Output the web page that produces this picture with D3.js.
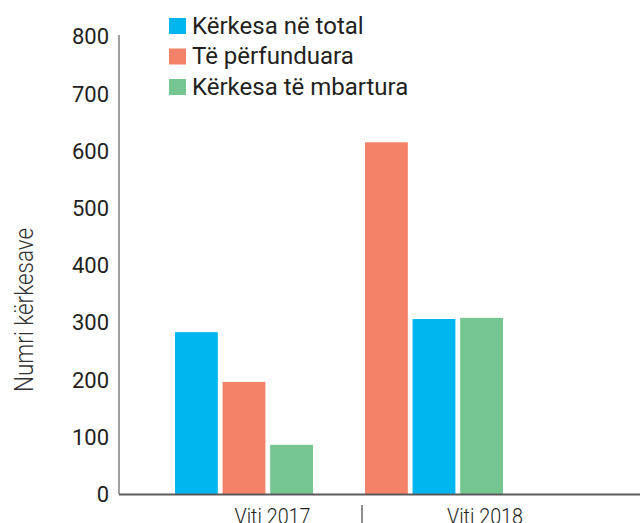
<!DOCTYPE html>
<html>
<head>
<meta charset="utf-8">
<script src="https://cdn.jsdelivr.net/npm/d3@7"></script>
<style>
    html, body { margin: 0; padding: 0; background: #fff; }
    svg { display: block; font-family: Roboto, "Open Sans", sans-serif; }
</style>
</head>
<body>
<div id="chart"></div>
<script>
// data
var years = ['Viti 2017', 'Viti 2018'];
var seriesNames = ['Kërkesa në total', 'Të përfunduara', 'Kërkesa të mbartura'];
var seriesColors = ['#00b6ef', '#f48268', '#76c692'];
var totalValues = [283, 306];      // Kërkesa në total
var doneValues = [196, 615];       // Të përfunduara
var carriedValues = [86, 308];     // Kërkesa të mbartura
// bar order inside each year (series index)
var barOrder = [[0, 1, 2], [1, 0, 2]];
var yTicks = [0, 100, 200, 300, 400, 500, 600, 700, 800];

var values = [totalValues, doneValues, carriedValues];

var W = 640, H = 523;
var svg = d3.select('#chart').append('svg')
    .attr('width', W)
    .attr('height', H);

var y = d3.scaleLinear()
    .domain([0, 800])
    .range([494, 36.5]);

var x = d3.scaleBand()
    .domain(years)
    .range([149, 529]);

var inner = d3.scaleBand()
    .domain([0, 1, 2])
    .range([26, 164])
    .paddingInner(0.1);

// y axis line
svg.append('line')
    .attr('x1', 119).attr('x2', 119)
    .attr('y1', 35).attr('y2', y(0))
    .attr('stroke', '#808080')
    .attr('stroke-width', 1.5);

// tick labels
svg.append('g')
    .selectAll('text')
    .data(yTicks)
    .join('text')
    .attr('x', 109)
    .attr('y', function(d) { return y(d); })
    .attr('dy', '0.36em')
    .attr('text-anchor', 'end')
    .attr('fill', '#231f20')
    .style('font-size', '22px')
    .text(function(d) { return d; });

// axis title
svg.append('text')
    .attr('transform', 'translate(33,' + 310 + ') rotate(-90)')
    .attr('text-anchor', 'middle')
    .attr('fill', '#333')
    .attr('textLength', 164)
    .attr('lengthAdjust', 'spacingAndGlyphs')
    .style('font-size', '25px')
    .style('font-weight', 300)
    .text('Numri kërkesave');

// bars
var groups = svg.append('g')
    .selectAll('g')
    .data(years)
    .join('g')
    .attr('transform', function(d) { return 'translate(' + x(d) + ',0)'; });

groups.selectAll('rect')
    .data(function(d, i) {
        return barOrder[i].map(function(s, k) {
            return {slot: k, series: s, value: values[s][i]};
        });
    })
    .join('rect')
    .attr('x', function(d) { return inner(d.slot); })
    .attr('width', inner.bandwidth())
    .attr('y', function(d) { return y(d.value); })
    .attr('height', function(d) { return y(0) - y(d.value); })
    .attr('fill', function(d) { return seriesColors[d.series]; });

// baseline
svg.append('line')
    .attr('x1', 119).attr('x2', W)
    .attr('y1', y(0) + 0.5).attr('y2', y(0) + 0.5)
    .attr('stroke', '#5a5a5a')
    .attr('stroke-width', 2);

// category divider
svg.append('line')
    .attr('x1', x(years[1]) + 23).attr('x2', x(years[1]) + 23)
    .attr('y1', 505).attr('y2', 523)
    .attr('stroke', '#444')
    .attr('stroke-width', 1.2);

// category labels (cut by the bottom edge, as in the original)
svg.append('g')
    .selectAll('text')
    .data(years)
    .join('text')
    .attr('x', function(d) { return x(d) + x.bandwidth() / 2 + (d === years[0] ? 28.5 : 51); })
    .attr('y', 524)
    .attr('text-anchor', 'middle')
    .attr('fill', '#231f20')
    .attr('textLength', 76)
    .attr('lengthAdjust', 'spacingAndGlyphs')
    .style('font-size', '22px')
    .style('font-weight', 300)
    .text(function(d) { return d; });

// legend
var legend = svg.append('g')
    .selectAll('g')
    .data(seriesNames)
    .join('g')
    .attr('transform', function(d, i) { return 'translate(169,' + (18 + i * 30.5) + ')'; });

legend.append('rect')
    .attr('width', 17)
    .attr('height', 16)
    .attr('fill', function(d, i) { return seriesColors[i]; });

legend.append('text')
    .attr('x', 23)
    .attr('y', 15.5)
    .attr('fill', '#231f20')
    .style('font-size', '24px')
    .text(function(d) { return d; });
</script>
</body>
</html>
